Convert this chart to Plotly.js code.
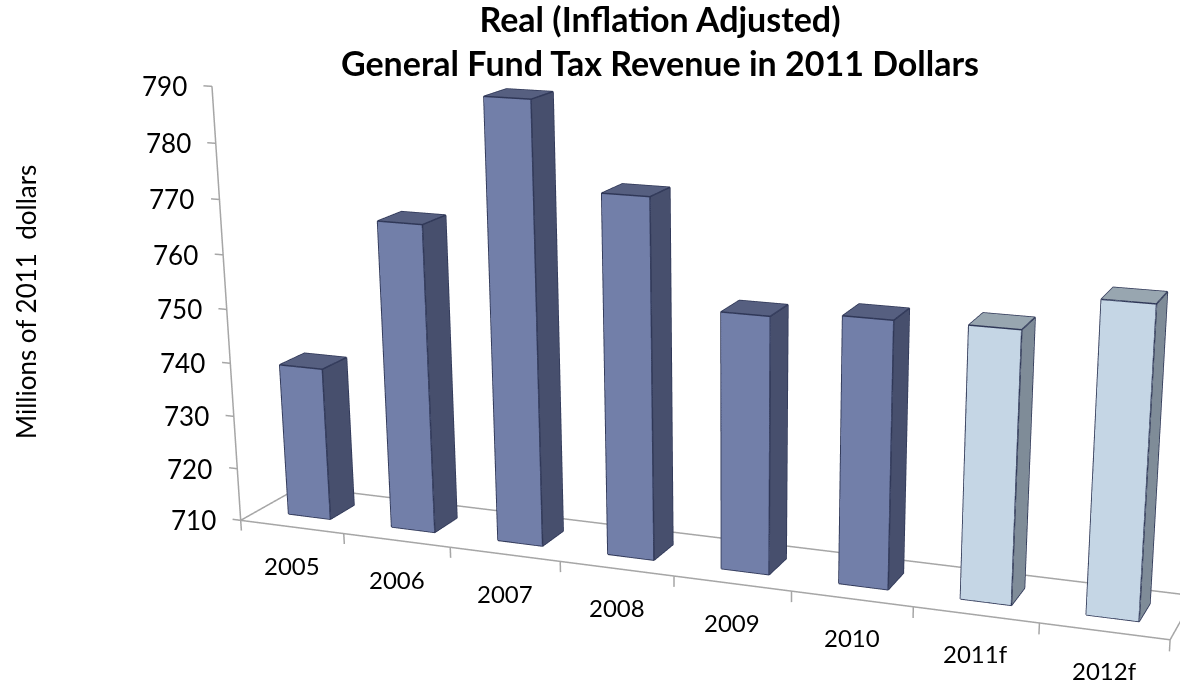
<!DOCTYPE html>
<html><head><meta charset="utf-8">
<script src="https://cdn.plot.ly/plotly-3.0.0.min.js"></script>
<style>html,body{margin:0;padding:0;background:#fff;overflow:hidden}
#wrap{position:relative;width:1180px;height:684px;overflow:hidden}
#c{position:absolute;left:-15px;top:-515px;width:1500px;height:2030px}</style></head>
<body><div id="wrap"><div id="c"></div></div>
<script>
const categories=['2005','2006','2007','2008','2009','2010','2011f','2012f'];
const values=[738.7,766.9,790,774.8,756,757.2,757.5,763.6];
const kinds=['a','a','a','a','a','a','f','f'];
const yTicks=[710,720,730,740,750,760,770,780,790];
const frontC={a:'#727fa9',f:'#c5d6e5'},sideC={a:'#474f6d',f:'#7f8c98'},topC={a:'#565f80',f:'#98a6b0'};
const base=710,hw=0.205,depth=0.205,W=1500,H=2030,offX=15,offY=515;
const xL=-0.5,xR=7.5,yF=-0.5,yB=0.5,zMax=790;
const traces=[];
function line(xs,ys,zs,color,width){traces.push({type:'scatter3d',mode:'lines',x:xs,y:ys,z:zs,line:{color:color,width:width},hoverinfo:'skip',showlegend:false});}
const axisC='#a6a6a6';
line([xL,xR,xR,xL,xL],[yF,yF,yB,yB,yF],[base,base,base,base,base],axisC,3);
line([xL,xL],[yF,yF],[base,zMax],axisC,3);
yTicks.forEach(t=>line([xL,xL-0.08],[yF,yF],[t,t],axisC,3));
for(let i=0;i<=categories.length;i++)line([i+xL,i+xL],[yF,yF],[base,base-2],axisC,3);
categories.forEach((c,i)=>{
 const v=values[i],k=kinds[i];
 const x0=i-hw,x1=i+hw,y0=-depth,y1=depth;
 const X=[x0,x1,x1,x0,x0,x1,x1,x0],Y=[y0,y0,y1,y1,y0,y0,y1,y1],Z=[base,base,base,base,v,v,v,v];
 traces.push({type:'mesh3d',x:X,y:Y,z:Z,
  i:[0,0,4,4,1,1,0,0,3,3],j:[1,5,5,6,2,6,3,7,2,6],k:[5,4,6,7,6,5,7,4,6,7],
  facecolor:[frontC[k],frontC[k],topC[k],topC[k],sideC[k],sideC[k],sideC[k],sideC[k],sideC[k],sideC[k]],
  flatshading:true,lighting:{ambient:1,diffuse:0,specular:0,roughness:1,fresnel:0},hoverinfo:'skip',showscale:false});
 [[0,1,5,4,0],[4,7,6,5],[1,2,6]].forEach(p=>line(p.map(q=>X[q]),p.map(q=>Y[q]),p.map(q=>Z[q]),'#2f3757',3));
});
const annots=[];
yTicks.forEach(t=>annots.push({x:xL,y:yF,z:t,text:String(t),showarrow:false,xanchor:'right',yanchor:'middle',xshift:-23,font:{size:26,color:'#000'}}));
categories.forEach((c,i)=>annots.push({x:i,y:yF,z:base,text:c,showarrow:false,xanchor:'center',yanchor:'middle',yshift:-39,font:{size:24,color:'#000'}}));
const hidden={visible:false,showgrid:false,showbackground:false,zeroline:false,showspikes:false};
const layout={width:W,height:H,margin:{l:0,r:0,t:0,b:0,pad:0},paper_bgcolor:'#fff',showlegend:false,
 font:{family:'Lato, "Noto Sans", sans-serif',color:'#000'},
 title:{text:'<b>Real (Inflation Adjusted)<br>General Fund Tax Revenue in 2011 Dollars</b>',font:{size:34},x:(660+offX)/W,xanchor:'center',xref:'paper',yref:'paper',y:1-(offY+32)/H,yanchor:'top'},
 annotations:[{xref:'paper',yref:'paper',x:(26+offX)/W,y:1-(302+offY)/H,text:'Millions of 2011  dollars',textangle:-90,showarrow:false,xanchor:'center',yanchor:'middle',font:{size:26,color:'#000'}}],
 scene:{domain:{x:[0,1],y:[0,1]},aspectmode:'manual',aspectratio:{x:2*8.3/8,y:0.252*1.04,z:0.9968},
  camera:{eye:{x:1.736,y:-4.416,z:1.2103},center:{x:0.071,y:0.034,z:-0.344},up:{x:0,y:0,z:1},projection:{type:'perspective'}},
  xaxis:Object.assign({range:[xL-0.15,xR+0.15]},hidden),
  yaxis:Object.assign({range:[yF-0.02,yB+0.02]},hidden),
  zaxis:Object.assign({range:[base-3,zMax+3]},hidden),
  annotations:annots
 }};
Plotly.newPlot('c',traces,layout,{displayModeBar:false});
</script></body></html>
